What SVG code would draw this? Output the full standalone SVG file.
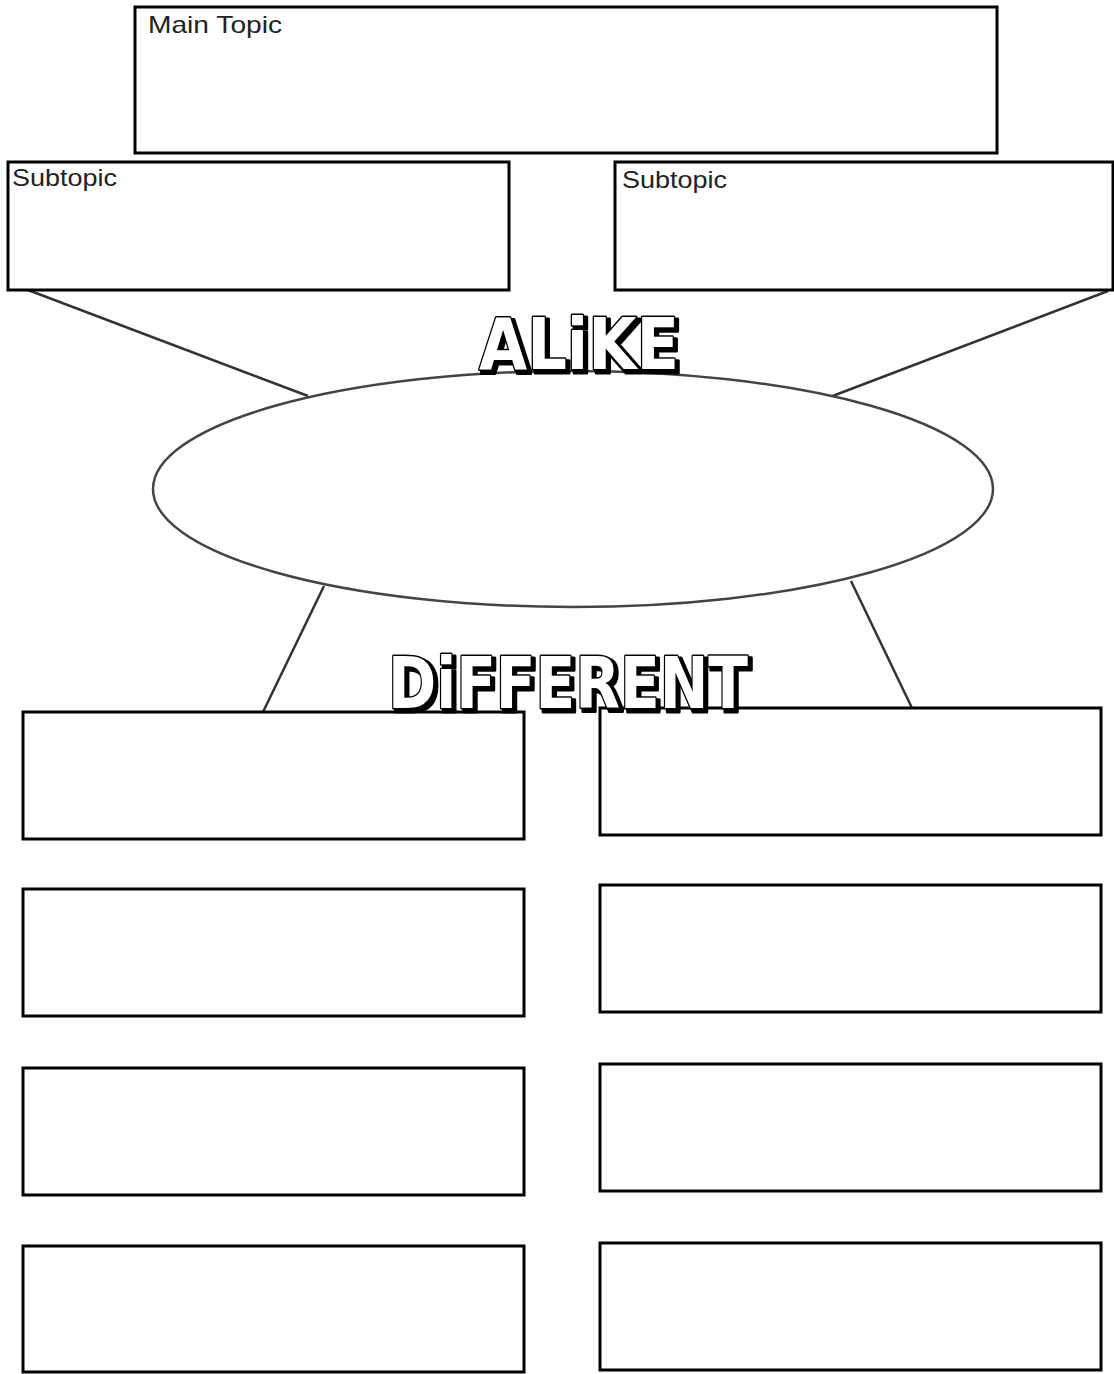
<svg xmlns="http://www.w3.org/2000/svg" width="1114" height="1374" viewBox="0 0 1114 1374">
<defs>
<filter id="drop" x="-10%" y="-20%" width="120%" height="150%">
<feOffset in="SourceAlpha" dx="3" dy="3" result="off"/>
<feMorphology in="off" operator="dilate" radius="1" result="thick"/>
<feMerge><feMergeNode in="thick"/><feMergeNode in="SourceGraphic"/></feMerge>
</filter>
</defs>
<style>
.box{fill:#fff;stroke:#000;stroke-width:3}
.lbl{font-family:"Liberation Sans",Arial,sans-serif;font-size:24px;fill:#222}
.conn{stroke:#333;stroke-width:2.5;fill:none}
.big{font-family:"DejaVu Sans",sans-serif;font-weight:bold;font-size:72px;fill:#fff;stroke:#000;stroke-width:3;stroke-linejoin:round;paint-order:stroke;filter:url(#drop)}
</style>
<rect width="1114" height="1374" fill="#fff"/>
<g id="connectors">
<line class="conn" x1="28" y1="290" x2="308" y2="396"/>
<line class="conn" x1="1108" y1="291" x2="830" y2="397"/>
<line class="conn" x1="324" y1="586" x2="263" y2="712"/>
<line class="conn" x1="851" y1="581" x2="912" y2="708"/>
</g>
<g id="main-topic">
<rect class="box" x="135" y="7" width="862" height="146"/>
<text class="lbl" x="148" y="33" textLength="134" lengthAdjust="spacingAndGlyphs">Main Topic</text>
</g>
<g id="subtopic-left">
<rect class="box" x="8" y="162" width="501" height="128"/>
<text class="lbl" x="12" y="186" textLength="105" lengthAdjust="spacingAndGlyphs">Subtopic</text>
</g>
<g id="subtopic-right">
<rect class="box" x="615" y="162" width="498" height="128"/>
<text class="lbl" x="622" y="188" textLength="105" lengthAdjust="spacingAndGlyphs">Subtopic</text>
</g>
<g id="alike">
<ellipse cx="573" cy="489" rx="420" ry="118" fill="#fff" stroke="#444" stroke-width="2.5"/>
<text class="big" x="479" y="369" textLength="200" lengthAdjust="spacingAndGlyphs">ALiKE</text>
</g>
<g id="diff-l1"><rect class="box" x="23" y="712" width="501" height="127"/></g>
<g id="diff-l2"><rect class="box" x="23" y="889" width="501" height="127"/></g>
<g id="diff-l3"><rect class="box" x="23" y="1068" width="501" height="127"/></g>
<g id="diff-l4"><rect class="box" x="23" y="1246" width="501" height="126"/></g>
<g id="diff-r1"><rect class="box" x="600" y="708" width="501" height="127"/></g>
<g id="diff-r2"><rect class="box" x="600" y="885" width="501" height="127"/></g>
<g id="diff-r3"><rect class="box" x="600" y="1064" width="501" height="127"/></g>
<g id="diff-r4"><rect class="box" x="600" y="1243" width="501" height="127"/></g>
<g id="different">
<text class="big" x="388" y="708" textLength="360" lengthAdjust="spacingAndGlyphs">DiFFERENT</text>
</g>
</svg>
